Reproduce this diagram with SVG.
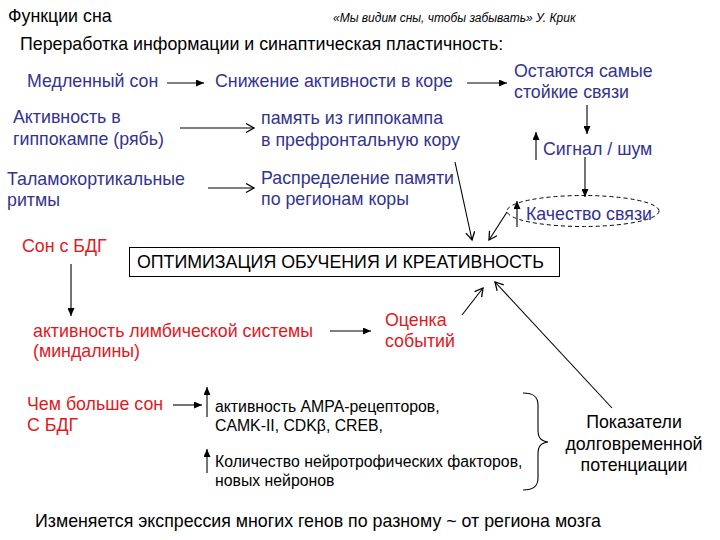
<svg xmlns="http://www.w3.org/2000/svg" width="720" height="540" viewBox="0 0 720 540">
<defs>
<style>
text{font-family:"Liberation Sans",Arial,sans-serif;}
.nv{fill:#33338f;font-size:17.8px;}
.rd{fill:#e0191e;font-size:17.8px;}
.bk{fill:#000;font-size:17.8px;}
.sm{fill:#000;font-size:15.8px;}
.ln{stroke:#000;stroke-width:1.1;fill:none;}
.fa{marker-end:url(#fill);}
.oa{marker-end:url(#open);}
</style>
<marker id="fill" markerUnits="userSpaceOnUse" markerWidth="9" markerHeight="7" refX="8" refY="3.5" orient="auto">
<path d="M0,0 L8,3.5 L0,7 z" fill="#000"/>
</marker>
<marker id="open" markerUnits="userSpaceOnUse" markerWidth="12" markerHeight="12" refX="9" refY="5" orient="auto">
<path d="M1,0.5 L9,5 L1,9.5" fill="none" stroke="#000" stroke-width="1.3"/>
</marker>
</defs>
<rect width="720" height="540" fill="#fff"/>
<g id="header">
<text x="8" y="22" class="bk" font-size="17">Функции сна</text>
<text x="333" y="22" font-size="12" font-style="italic" fill="#000">«Мы видим сны, чтобы забывать» У. Крик</text>
<text x="20" y="50" class="bk">Переработка информации и синаптическая пластичность:</text>
</g>
<g id="n-slow"><text x="27" y="87" class="nv">Медленный сон</text></g>
<g id="n-decrease"><text x="215" y="87" class="nv">Снижение активности в коре</text></g>
<g id="n-stable"><text class="nv"><tspan x="514" y="77">Остаются самые</tspan><tspan x="514" y="98">стойкие связи</tspan></text></g>
<g id="n-hippo"><text class="nv"><tspan x="13" y="123">Активность в</tspan><tspan x="13" y="145">гиппокампе (рябь)</tspan></text></g>
<g id="n-memory"><text class="nv"><tspan x="261" y="124">память из гиппокампа</tspan><tspan x="261" y="146">в префронтальную кору</tspan></text></g>
<g id="n-signal"><text x="543" y="155" class="nv">Сигнал / шум</text></g>
<g id="n-thal"><text class="nv"><tspan x="7" y="185">Таламокортикальные</tspan><tspan x="7" y="206">ритмы</tspan></text></g>
<g id="n-distrib"><text class="nv"><tspan x="261" y="184">Распределение памяти</tspan><tspan x="261" y="205">по регионам коры</tspan></text></g>
<g id="n-quality">
<ellipse cx="583" cy="211" rx="76" ry="15.5" fill="none" stroke="#000" stroke-width="1" stroke-dasharray="4,3"/>
<text x="526" y="220" class="nv">Качество связи</text>
</g>
<g id="n-optim">
<rect x="129.5" y="247.5" width="430" height="29" fill="#fff" stroke="#000" stroke-width="1"/>
<text x="137" y="268" class="bk" font-size="17">ОПТИМИЗАЦИЯ ОБУЧЕНИЯ И КРЕАТИВНОСТЬ</text>
</g>
<g id="n-rem"><text x="22" y="252" class="rd">Сон с БДГ</text></g>
<g id="n-limbic"><text class="rd"><tspan x="33" y="337">активность лимбической системы</tspan><tspan x="33" y="357">(миндалины)</tspan></text></g>
<g id="n-eval"><text class="rd"><tspan x="385" y="326">Оценка</tspan><tspan x="385" y="347">событий</tspan></text></g>
<g id="n-more"><text class="rd"><tspan x="27" y="410">Чем больше сон</tspan><tspan x="27" y="431">С БДГ</tspan></text></g>
<g id="n-ampa"><text class="sm"><tspan x="215" y="412">активность АМРА-рецепторов,</tspan><tspan x="215" y="431">CAMK-II, CDKβ, CREB,</tspan></text></g>
<g id="n-neuro"><text class="sm"><tspan x="215" y="467">Количество нейротрофических факторов,</tspan><tspan x="215" y="486">новых нейронов</tspan></text></g>
<g id="n-ltp"><text class="bk" font-size="17" text-anchor="middle"><tspan x="634" y="428">Показатели</tspan><tspan x="634" y="450">долговременной</tspan><tspan x="634" y="471">потенциации</tspan></text></g>
<g id="footer"><text x="35" y="527" class="bk">Изменяется экспрессия многих генов по разному ~ от региона мозга</text></g>
<g id="connectors">
<line class="ln fa" x1="167" y1="83" x2="204" y2="83"/>
<line class="ln fa" x1="467" y1="83" x2="507" y2="83"/>
<line class="ln oa" x1="180" y1="128" x2="254" y2="128"/>
<line class="ln oa" x1="208" y1="188" x2="254" y2="188"/>
<line class="ln fa" x1="587" y1="105" x2="587" y2="134"/>
<line class="ln fa" x1="536" y1="160" x2="536" y2="132"/>
<line class="ln fa" x1="585" y1="157" x2="585" y2="197"/>
<line class="ln fa" x1="517" y1="227" x2="517" y2="201"/>
<line class="ln oa" x1="507" y1="212" x2="489" y2="240"/>
<line class="ln oa" x1="455" y1="162" x2="472" y2="240"/>
<line class="ln fa" x1="71" y1="264" x2="71" y2="316"/>
<line class="ln fa" x1="330" y1="331" x2="371" y2="331"/>
<line class="ln oa" x1="462" y1="315" x2="483" y2="288"/>
<line class="ln oa" x1="612" y1="408" x2="495" y2="282"/>
<line class="ln fa" x1="173" y1="405" x2="202" y2="405"/>
<line class="ln fa" x1="207" y1="417" x2="207" y2="387"/>
<line class="ln fa" x1="207" y1="473" x2="207" y2="449"/>
<path class="ln" d="M523,393 C534,393 538,397 538,405 L538,430 C538,438 541,441 548,442 C541,443 538,446 538,454 L538,478 C538,486 534,490 523,490"/>
</g>
</svg>
